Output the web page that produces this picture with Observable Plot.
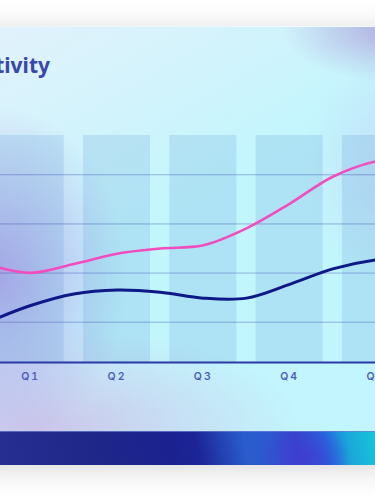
<!DOCTYPE html>
<html>
<head>
<meta charset="utf-8">
<script src="https://cdn.jsdelivr.net/npm/d3@7"></script>
<script src="https://cdn.jsdelivr.net/npm/@observablehq/plot@0.6"></script>
<style>
  html, body { margin: 0; padding: 0; }
  body { width: 375px; height: 504px; overflow: hidden; background: #ffffff; position: relative; font-family: "Noto Sans", sans-serif; }
  #card {
    position: absolute; left: -48px; top: 26px; width: 471px; height: 439px;
    box-shadow: 0 4px 28px rgba(0,0,0,0.16);
    border-top: 1px solid rgba(255,255,255,0.7);
    box-sizing: border-box;
    background:
      radial-gradient(ellipse 110px 55px at 440px 0px, rgba(176,168,222,0.95), rgba(176,168,222,0) 100%),
      radial-gradient(ellipse 130px 170px at 45px 250px, rgba(182,166,234,0.95), rgba(182,166,234,0) 100%),
      radial-gradient(ellipse 260px 100px at 90px 400px, rgba(204,198,234,1), rgba(204,198,234,0) 100%),
      radial-gradient(ellipse 100px 120px at 450px 140px, rgba(196,214,246,0.8), rgba(196,214,246,0) 100%),
      linear-gradient(150deg, #e4f2fb 0%, #d2f3fc 25%, #c2f6fd 45%, #c2f5fd 100%);
    overflow: hidden;
  }
  #footer {
    position: absolute; left: 0; right: 0; bottom: 0; height: 34px;
    border-top: 1px solid rgba(110,130,210,0.7);
    box-sizing: border-box;
    background:
      radial-gradient(ellipse 45px 36px at 352px 26px, rgba(66,60,212,0.85), rgba(66,60,212,0) 100%),
      linear-gradient(78deg, #2b3298 0%, #1f2788 30%, #1b2190 47%, #1c2496 52%, #2a5ccc 62%, #2d58d0 68%, #3444c8 73%, #2468de 79%, #1aa8da 84%, #18c4da 90%, #18c8dc 100%);
  }
  #title {
    position: absolute; right: 325px; top: 55px; white-space: nowrap;
    font-family: "Noto Sans", sans-serif; font-weight: 700; font-size: 21px; line-height: 21px;
    color: #3a47aa;
  }
  #chart { position: absolute; left: -40px; top: 120px; width: 460px; height: 280px; }
  #chart svg { max-width: none !important; width: 460px; height: 280px; }
</style>
</head>
<body>
<div id="card"><div id="footer"></div></div>
<div id="title">Activity</div>
<div id="chart"></div>
<script>
// Categories (quarters) and tick labels
const quarters = ["Q1", "Q2", "Q3", "Q4", "Q5"];
// Line sample positions, in quarter units (0 = Q1)
const samplePos = [-0.5, 0, 0.5, 1, 1.5, 2, 2.5, 3, 3.5, 4, 4.5];
// Pink series values
const pinkValues = [43.5, 40.1, 43.7, 47.9, 50.0, 51.3, 58.2, 68.2, 79.2, 85.5, 87.5];
// Navy series values
const navyValues = [20.0, 26.8, 31.5, 33.1, 32.2, 29.8, 29.8, 35.4, 41.7, 45.4, 46.5];
// Gridline values
const gridValues = [20, 40, 60, 80];
const yDomain = [3.6, 96];

const pinkRows = samplePos.map((t, i) => ({t, v: pinkValues[i]}));
const navyRows = samplePos.map((t, i) => ({t, v: navyValues[i]}));

const chart = Plot.plot({
  width: 460,
  height: 280,
  marginLeft: 0,
  marginRight: 0,
  marginTop: 15,
  marginBottom: 38,
  style: {background: "transparent", fontFamily: "Inter, sans-serif", letterSpacing: "2px", overflow: "hidden"},
  x: {domain: [0, quarters.length - 1], range: [70.2, 415.4], label: null},
  y: {domain: yDomain, axis: null, label: null},
  marks: [
    Plot.rect(quarters, {
      x1: (d, i) => i - 0.5,
      x2: (d, i) => i + 0.5,
      insetLeft: 9.65,
      insetRight: 9.65,
      fill: "#5a9ad0",
      fillOpacity: 0.2
    }),
    Plot.ruleY(gridValues, {stroke: "#3a4ab0", strokeOpacity: 0.4, strokeWidth: 1}),
    Plot.frame({anchor: "bottom", stroke: "#2b3aa6", strokeWidth: 2}),
    Plot.axisX(quarters.map((d, i) => i), {
      tickFormat: i => quarters[i],
      tickSize: 0,
      tickPadding: 10.5,
      fontSize: 10.5,
      fontWeight: 600,
      fill: "#4f5fb8",
      label: null
    }),
    Plot.line(pinkRows, {x: "t", y: "v", curve: "catmull-rom", stroke: "#f24dbf", strokeWidth: 2.6}),
    Plot.line(navyRows, {x: "t", y: "v", curve: "catmull-rom", stroke: "#0e1886", strokeWidth: 3})
  ]
});
document.getElementById("chart").appendChild(chart);
</script>
</body>
</html>
